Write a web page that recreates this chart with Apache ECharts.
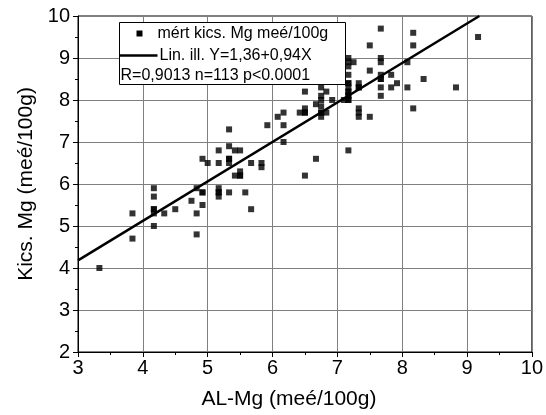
<!DOCTYPE html>
<html>
<head>
<meta charset="utf-8">
<script src="https://cdn.jsdelivr.net/npm/echarts@6/dist/echarts.min.js"></script>
<style>
html,body{margin:0;padding:0;background:#fff;}
#chart{width:546px;height:415px;}
</style>
</head>
<body>
<div id="chart"></div>
<script>
// Measured points: AL-Mg (x) and Kics. Mg (y), meé/100g
var alMg = [3.33,3.84,3.84,4.17,4.17,4.17,4.17,4.17,4.33,4.5,
  4.75,4.83,4.92,4.92,4.83,4.83,4.92,5.0,5.17,5.17,
  5.17,5.17,5.17,5.33,5.33,5.33,5.33,5.33,5.42,5.5,
  5.42,5.5,5.5,5.58,5.67,5.67,5.83,5.83,5.92,6.08,
  6.17,6.17,6.17,6.42,6.5,6.5,6.67,6.75,6.75,7.5,
  7.67,7.67,7.83,7.92,7.83,7.67,7.67,7.33,7.33,7.17,
  7.17,7.17,7.17,7.17,7.1,7.17,7.17,7.08,7.33,7.33,
  7.33,7.5,7.17,6.5,6.75,6.83,6.75,6.75,6.67,6.92,
  6.75,6.83,7.67,7.5,8.17,8.17,9.17,7.67,7.67,8.08,
  7.08,7.17,7.08,7.17,7.25,8.33,8.08,8.83,8.17,6.5,
  7.17,7.17,7.17,7.33,6.75,5.17,5.33,4.17,7.67,6.5,
  5.5,7.17,4.92];
var kicsMg = [4.0,4.7,5.3,5.9,5.7,5.4,5.3,5.0,5.3,5.4,
  5.6,5.9,5.8,5.5,5.3,4.8,6.6,6.5,6.8,6.5,
  5.9,5.8,5.7,7.3,6.9,6.6,6.5,5.8,6.8,6.8,
  6.2,6.3,6.2,5.8,6.5,5.4,6.5,6.4,7.4,7.6,
  7.7,7.4,7.0,7.7,7.7,6.2,6.6,7.7,7.6,8.7,
  8.6,8.5,8.6,8.4,8.3,8.3,8.1,8.4,8.3,8.4,
  8.3,8.2,8.1,8.0,8.0,8.6,8.8,8.8,7.8,7.7,
  7.6,7.6,6.8,8.2,8.3,8.2,8.1,8.0,7.9,8.0,
  7.85,7.7,9.7,9.3,9.6,9.3,9.5,9.0,8.9,8.9,
  9.0,9.0,8.9,8.9,8.9,8.5,8.3,8.3,7.8,7.8,
  8.1,8.0,8.2,8.3,7.7,5.8,6.6,5.4,8.5,7.7,
  6.2,8.4,5.8];
// Linear fit Y = 1,36 + 0,94X drawn between these end points
var fitX = [3, 9.19];
var fitY = [4.18, 10];
var xTicks = [3,4,5,6,7,8,9,10];
var yTicks = [2,3,4,5,6,7,8,9,10];
var legendLabels = ['mért kics. Mg meé/100g', 'Lin. ill. Y=1,36+0,94X', 'R=0,9013 n=113 p<0.0001'];

var pts = alMg.map(function(x,i){return [x,kicsMg[i]];});
var fit = fitX.map(function(x,i){return [x,fitY[i]];});

var FONT = 'Liberation Sans, Arial, sans-serif';
var chart = echarts.init(document.getElementById('chart'), null, {renderer:'canvas'});
chart.setOption({
  animation:false,
  backgroundColor:'#fff',
  grid:{left:78,right:13,top:16,bottom:61,show:true,borderColor:'#000',borderWidth:1,backgroundColor:'transparent'},
  xAxis:{
    type:'value',min:xTicks[0],max:xTicks[xTicks.length-1],interval:1,
    name:'AL-Mg (meé/100g)',nameLocation:'middle',nameGap:37,
    nameTextStyle:{fontFamily:FONT,fontSize:21,color:'#000',padding:[0,32,0,0]},
    axisLine:{show:true,onZero:false,lineStyle:{color:'#000',width:1}},
    axisTick:{show:true,inside:false,length:5,lineStyle:{color:'#000'}},
    minorTick:{show:true,splitNumber:2,length:3,lineStyle:{color:'#000'}},
    axisLabel:{fontFamily:FONT,fontSize:20,color:'#000',margin:6},
    splitLine:{show:true,lineStyle:{color:'#7f7f7f',width:1}}
  },
  yAxis:{
    type:'value',min:yTicks[0],max:yTicks[yTicks.length-1],interval:1,
    name:'Kics. Mg (meé/100g)',nameLocation:'middle',nameGap:37,
    nameTextStyle:{fontFamily:FONT,fontSize:21,color:'#000'},
    axisLine:{show:true,onZero:false,lineStyle:{color:'#000',width:1}},
    axisTick:{show:true,inside:false,length:5,lineStyle:{color:'#000'}},
    minorTick:{show:true,splitNumber:2,length:3,lineStyle:{color:'#000'}},
    axisLabel:{fontFamily:FONT,fontSize:20,color:'#000',margin:8},
    splitLine:{show:true,lineStyle:{color:'#7f7f7f',width:1}}
  },
  series:[
    {name:legendLabels[0],type:'scatter',data:pts,symbol:'rect',symbolSize:6,
     itemStyle:{color:'#000'},z:3},
    {name:legendLabels[1],type:'line',data:fit,showSymbol:false,symbol:'none',
     lineStyle:{color:'#000',width:2.5},z:4}
  ],
  graphic:[{
    type:'group',left:117,top:22,zlevel:1,z:100,
    children:[
      {type:'rect',zlevel:1,z:100,shape:{x:0,y:0,width:226,height:62},style:{fill:'#fff',stroke:'#000',lineWidth:1}},
      {type:'rect',zlevel:1,z:101,shape:{x:17,y:8,width:6,height:6},style:{fill:'#000'}},
      {type:'text',zlevel:1,z:101,x:38,y:11,style:{text:legendLabels[0],font:'16px '+FONT,fill:'#000',verticalAlign:'middle'}},
      {type:'line',zlevel:1,z:101,shape:{x1:0,y1:33,x2:38,y2:33},style:{stroke:'#000',lineWidth:2.5}},
      {type:'text',zlevel:1,z:101,x:40,y:33,style:{text:legendLabels[1],font:'16px '+FONT,fill:'#000',verticalAlign:'middle'}},
      {type:'text',zlevel:1,z:101,x:1,y:53,style:{text:legendLabels[2],font:'16px '+FONT,fill:'#000',verticalAlign:'middle'}}
    ]
  }]
});
</script>
</body>
</html>
